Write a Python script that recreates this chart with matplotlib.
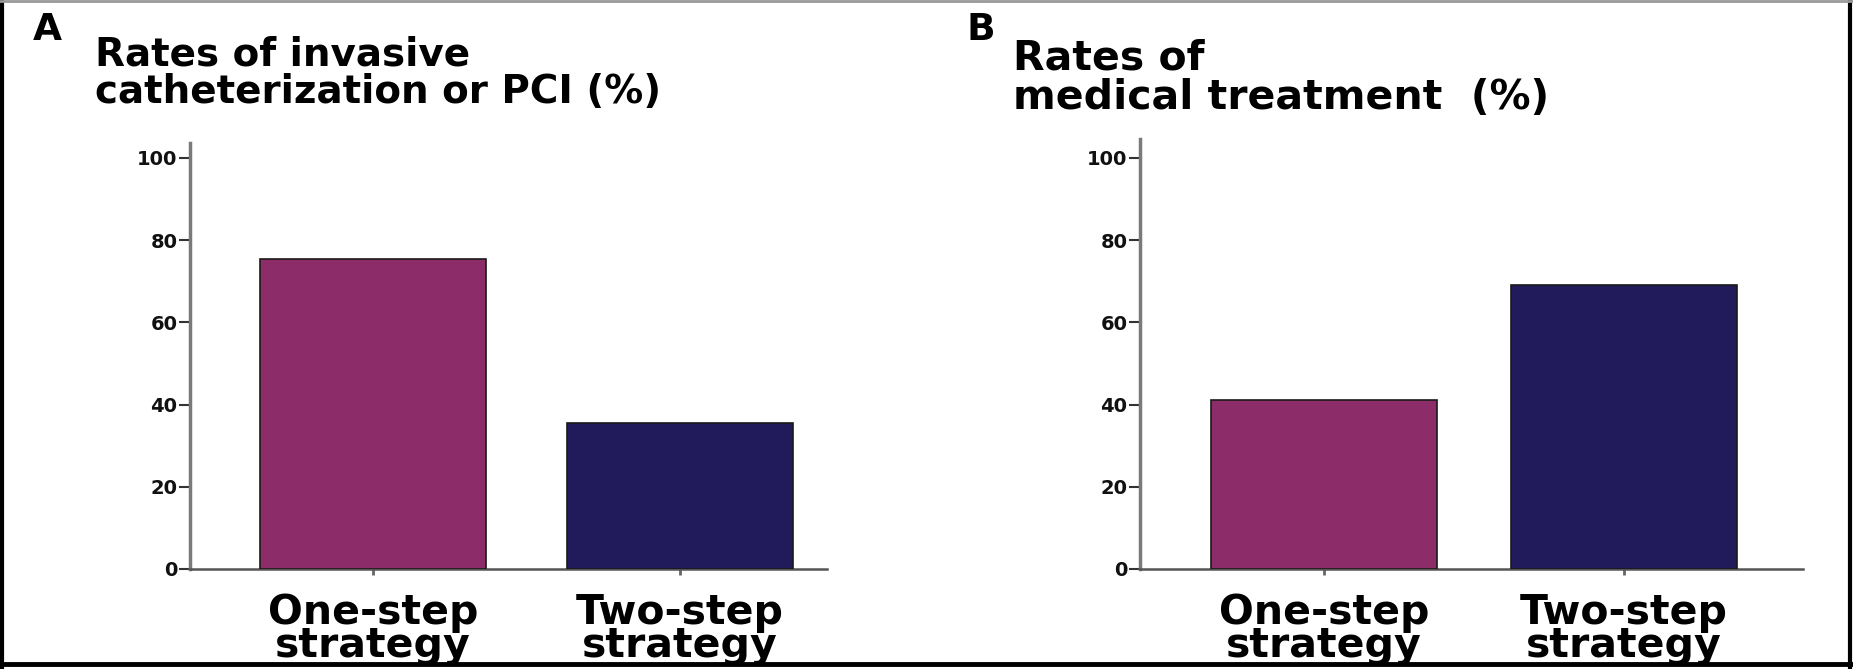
import matplotlib
matplotlib.use("Agg")
import matplotlib.pyplot as plt
from matplotlib.lines import Line2D

plt.rcParams['font.family'] = ['DejaVu Sans']
plt.rcParams['font.weight'] = 'bold'

groups = ['One-step\nstrategy', 'Two-step\nstrategy']
invasive_pct = [75.5, 35.6]
medical_pct = [41.2, 69.1]
y_ticks = [0, 20, 40, 60, 80, 100]
bar_colors = ['#8c2c69', '#221b5b']

W, H = 1853, 669
fig = plt.figure(figsize=(W / 100, H / 100), dpi=100)


def px_axes(left, right, bottom, top):
    return fig.add_axes([left / W, (H - bottom) / H, (right - left) / W, (bottom - top) / H])


def draw_panel(ax, values, xlim, ylim_top, width):
    x = range(len(values))
    ax.bar(x, values, width=width, color=bar_colors, edgecolor='#1a1a1a', linewidth=1.2, zorder=3)
    ax.set_xlim(*xlim)
    ax.set_ylim(0, ylim_top)
    ax.set_yticks(y_ticks)
    ax.set_xticks(list(x))
    ax.set_xticklabels(groups, fontsize=29.5, fontweight='bold', linespacing=0.78)
    for s in ['top', 'right']:
        ax.spines[s].set_visible(False)
    ax.spines['left'].set_color('#7a7a7a')
    ax.spines['left'].set_linewidth(2.5)
    ax.spines['bottom'].set_color('#555555')
    ax.spines['bottom'].set_linewidth(1.8)
    ax.tick_params(axis='y', length=8, width=1.5, color='#333333', pad=1,
                   labelsize=14, labelcolor='#111111')
    ax.tick_params(axis='x', length=4, width=2, color='#666666', pad=13)


# panel A
axA = px_axes(190, 827, 569, 143)
draw_panel(axA, invasive_pct, (-0.596, 1.479), 103.6, 0.736)

# panel B
axB = px_axes(1140, 1803, 569, 139)
draw_panel(axB, medical_pct, (-0.613, 1.597), 104.6, 0.753)

# panel letters and titles (baseline of the last line)
fig.text(33 / W, 1 - 40 / H, 'A', fontsize=27, fontweight='bold', va='baseline')
fig.text(967 / W, 1 - 40 / H, 'B', fontsize=27, fontweight='bold', va='baseline')
fig.text(95 / W, 1 - 103 / H, 'Rates of invasive\ncatheterization or PCI (%)',
         fontsize=28, fontweight='bold', va='baseline', linespacing=1.0)
fig.text(1013 / W, 1 - 109 / H, 'Rates of\nmedical treatment  (%)',
         fontsize=29.5, fontweight='bold', va='baseline', linespacing=1.0)

# outer frame
fig.add_artist(Line2D([2 / W, 2 / W], [0, 1], color='black', lw=3, transform=fig.transFigure))
fig.add_artist(Line2D([1 - 3 / W, 1 - 3 / W], [0, 1], color='black', lw=3, transform=fig.transFigure))
fig.add_artist(Line2D([0, 1], [5 / H, 5 / H], color='black', lw=3.5, transform=fig.transFigure))
fig.add_artist(Line2D([0, 1], [1 - 0.5 / H, 1 - 0.5 / H], color='#999999', lw=2, transform=fig.transFigure))

fig.savefig('out.png', dpi=100)
